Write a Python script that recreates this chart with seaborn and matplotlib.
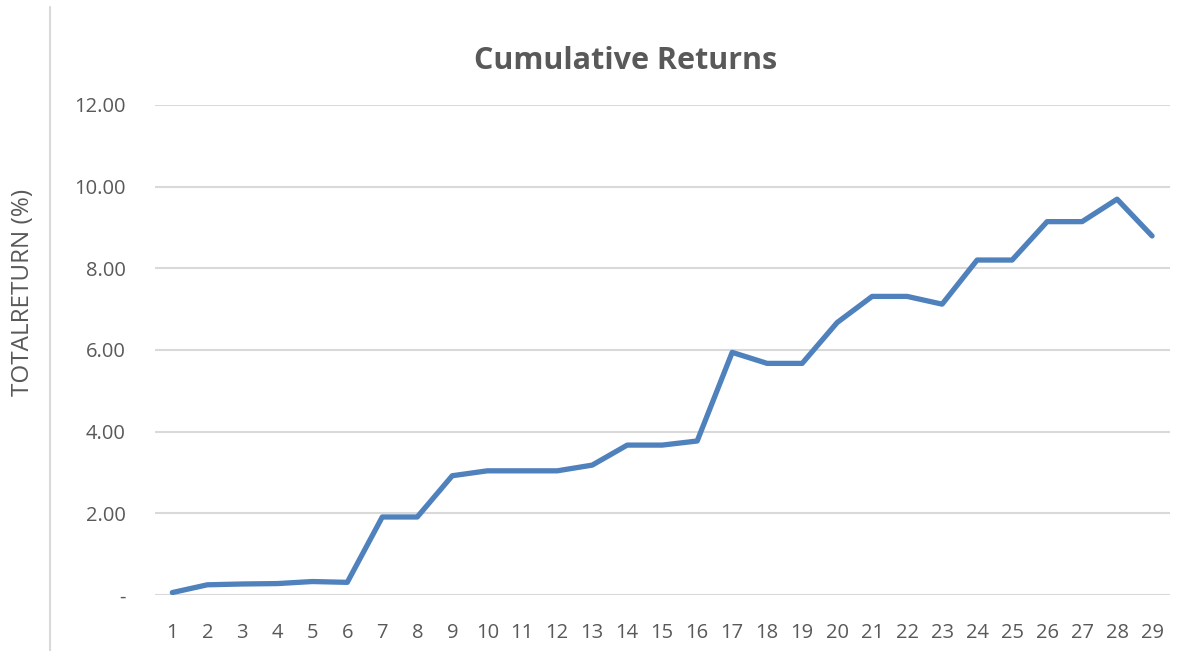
import matplotlib
matplotlib.use("Agg")
import matplotlib.pyplot as plt
import pandas as pd
import seaborn as sns
from matplotlib.lines import Line2D

# ----------------------------
# Data
# ----------------------------
periods = list(range(1, 30))
total_return = [
    0.06, 0.25, 0.27, 0.28, 0.33, 0.31, 1.91, 1.91, 2.92, 3.04,
    3.04, 3.04, 3.18, 3.67, 3.67, 3.77, 5.94, 5.67, 5.67, 6.67,
    7.31, 7.31, 7.12, 8.20, 8.20, 9.14, 9.14, 9.69, 8.79,
]
y_ticks = [0, 2, 4, 6, 8, 10, 12]
y_tick_labels = ["-", "2.00", "4.00", "6.00", "8.00", "10.00", "12.00"]

df = pd.DataFrame({"period": periods, "total_return": total_return})

sns.set_style("white")
plt.rcParams["font.family"] = ["Open Sans", "DejaVu Sans"]

TEXT = "#595959"
GRID = "#D9D9D9"
LINE = "#4F81BD"

fig = plt.figure(figsize=(11.91, 6.51), dpi=100)
ax = fig.add_axes([0.130, 0.086, 0.852, 0.753])

sns.lineplot(
    data=df, x="period", y="total_return", ax=ax,
    color=LINE, linewidth=3.8, solid_capstyle="round", solid_joinstyle="round",
)

ax.set_xlim(0.5, 29.5)
ax.set_ylim(0, 12)
ax.set_xticks(periods)
ax.set_xticklabels([str(p) for p in periods])
ax.set_yticks(y_ticks)
ax.set_yticklabels(y_tick_labels)

ax.grid(axis="y", color=GRID, linewidth=1.5)
ax.set_axisbelow(True)
for side in ["top", "right", "left", "bottom"]:
    ax.spines[side].set_visible(False)

ax.tick_params(axis="both", length=0, labelsize=14.5, labelcolor=TEXT)
ax.tick_params(axis="y", pad=21)
ax.tick_params(axis="x", pad=20)

ax.set_xlabel("")
ax.set_ylabel("TOTALRETURN (%)", fontsize=17.5, color=TEXT)
ax.yaxis.set_label_coords(-0.118, 0.617)

fig.text(0.525, 0.906, "Cumulative Returns", ha="center", va="center",
         fontsize=22, fontweight="bold", color=TEXT)

# light frame edge on the left like the original chart area
fig.add_artist(Line2D([0.042, 0.042], [0.0, 0.99], color=GRID,
                      linewidth=1.5, transform=fig.transFigure))

fig.savefig("out.png", dpi=100)
